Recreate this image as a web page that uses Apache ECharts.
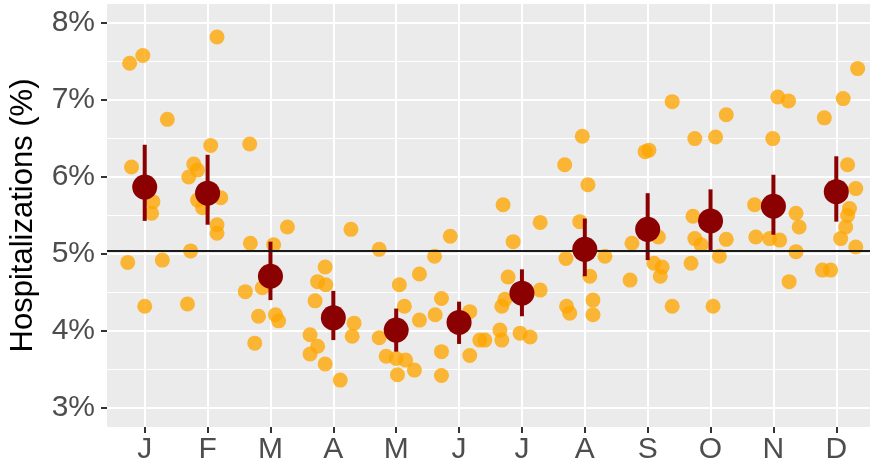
<!DOCTYPE html>
<html>
<head>
<meta charset="utf-8">
<script src="https://cdn.jsdelivr.net/npm/echarts@6/dist/echarts.min.js"></script>
<style>
html,body{margin:0;padding:0;background:#fff;}
#chart{width:870px;height:467px;}
</style>
</head>
<body>
<div id="chart"></div>
<script>
const months = ['J','F','M','A','M','J','J','A','S','O','N','D'];
const yTicks = [3, 4, 5, 6, 7, 8];
const yMinorTicks = [3.5, 4.5, 5.5, 6.5, 7.5];
const overallMean = 5.04;

const meanValues = [5.87, 5.79, 4.71, 4.17, 4.01, 4.11, 4.49, 5.06, 5.32, 5.43, 5.62, 5.81];
const ciLower    = [5.43, 5.38, 4.40, 3.88, 3.73, 3.83, 4.19, 4.71, 4.92, 5.05, 5.25, 5.42];
const ciUpper    = [6.42, 6.29, 5.16, 4.52, 4.29, 4.38, 4.80, 5.46, 5.79, 5.84, 6.03, 6.27];

const janValues = [7.48, 7.58, 6.13, 6.75, 5.68, 5.53, 5.85, 4.89, 4.32, 4.92];
const febValues = [7.82, 6.41, 6.17, 6.09, 6.00, 5.73, 5.70, 5.60, 5.38, 5.27, 5.04, 4.35];
const marValues = [6.43, 5.35, 5.14, 5.12, 4.56, 4.51, 4.21, 4.19, 4.13, 3.84];
const aprValues = [5.32, 4.83, 4.64, 4.60, 4.39, 4.10, 3.95, 3.93, 3.80, 3.70, 3.57, 3.36];
const mayValues = [5.06, 4.74, 4.60, 4.32, 4.14, 3.91, 3.67, 3.64, 3.62, 3.49, 3.43];
const junValues = [5.23, 4.97, 4.42, 4.25, 4.21, 3.88, 3.88, 3.73, 3.68, 3.42];
const julValues = [5.64, 5.41, 5.16, 4.70, 4.53, 4.41, 4.32, 4.01, 3.97, 3.92, 3.88];
const augValues = [6.53, 6.16, 5.90, 5.42, 4.97, 4.94, 4.71, 4.40, 4.32, 4.23, 4.21];
const sepValues = [6.98, 6.35, 6.33, 5.22, 5.14, 4.88, 4.83, 4.71, 4.66, 4.32];
const octValues = [6.81, 6.52, 6.50, 5.49, 5.20, 5.19, 5.12, 4.97, 4.88, 4.32];
const novValues = [7.04, 6.99, 6.50, 5.64, 5.53, 5.35, 5.22, 5.20, 5.18, 5.03, 4.64];
const decValues = [7.41, 7.02, 6.77, 6.16, 5.85, 5.59, 5.50, 5.35, 5.20, 5.09, 4.79, 4.79];

// horizontal jitter of each yearly point (in month units)
const janJitter = [-0.24, -0.03, -0.21, 0.36, 0.13, 0.11, 0.05, -0.27, 0.00, 0.28];
const febJitter = [0.15, 0.05, -0.22, -0.16, -0.30, 0.21, -0.16, -0.08, 0.15, 0.15, -0.27, -0.32];
const marJitter = [-0.33, 0.27, -0.32, 0.05, -0.13, -0.40, 0.08, -0.19, 0.13, -0.25];
const aprJitter = [0.28, -0.13, -0.25, -0.12, -0.29, 0.33, -0.37, 0.30, -0.25, -0.37, -0.13, 0.11];
const mayJitter = [-0.27, 0.37, 0.05, 0.13, 0.37, -0.27, -0.16, 0.00, 0.15, 0.29, 0.02];
const junJitter = [-0.14, -0.39, -0.28, 0.17, -0.38, 0.33, 0.41, -0.28, 0.17, -0.28];
const julJitter = [-0.30, 0.29, -0.14, -0.22, 0.29, -0.27, -0.32, -0.35, -0.03, 0.13, -0.32];
const augJitter = [-0.04, -0.32, 0.05, -0.08, 0.32, -0.30, 0.08, 0.13, -0.29, -0.24, 0.13];
const sepJitter = [0.39, 0.02, -0.04, 0.17, -0.25, 0.10, 0.23, 0.20, -0.28, 0.39];
const octJitter = [0.25, 0.08, -0.25, -0.28, -0.25, 0.25, -0.15, 0.14, -0.31, 0.04];
const novJitter = [0.07, 0.24, -0.01, -0.30, 0.36, 0.41, -0.28, -0.06, 0.10, 0.36, 0.25];
const decJitter = [0.34, 0.11, -0.19, 0.18, 0.31, 0.21, 0.18, 0.15, 0.07, 0.31, -0.22, -0.09];

const monthValues = [janValues, febValues, marValues, aprValues, mayValues, junValues,
                     julValues, augValues, sepValues, octValues, novValues, decValues];
const monthJitter = [janJitter, febJitter, marJitter, aprJitter, mayJitter, junJitter,
                     julJitter, augJitter, sepJitter, octJitter, novJitter, decJitter];

const yearlyPoints = [];
monthValues.forEach((vals, m) => {
  vals.forEach((v, i) => yearlyPoints.push([m + 1 + monthJitter[m][i], v]));
});
const meanPoints = meanValues.map((v, m) => [m + 1, v]);
const ciData = meanValues.map((v, m) => [m + 1, ciLower[m], ciUpper[m]]);
const monthPositions = months.map((_, m) => m + 1);

const FONT = '"Liberation Sans", Arial, Helvetica, sans-serif';
const chart = echarts.init(document.getElementById('chart'), null, {renderer: 'canvas'});

chart.setOption({
  animation: false,
  backgroundColor: '#ffffff',
  grid: {
    left: 107, top: 4, width: 767, height: 423,
    show: true, backgroundColor: '#EBEBEB', borderWidth: 0,
    containLabel: false, outerBoundsMode: 'none'
  },
  xAxis: {
    type: 'value', min: 0.4, max: 12.6,
    axisLine: {show: false},
    axisTick: {show: true, customValues: monthPositions, length: 6, lineStyle: {color: '#333333', width: 2}},
    axisLabel: {
      customValues: monthPositions, margin: 8,
      formatter: v => months[Math.round(v) - 1] || '',
      color: '#4D4D4D', fontSize: 30, fontFamily: FONT
    },
    splitLine: {show: true, lineStyle: {color: '#ffffff', width: 2}}
  },
  yAxis: [{
    type: 'value', min: 2.75, max: 8.25,
    name: 'Hospitalizations (%)', nameLocation: 'middle', nameGap: 68, nameRotate: 90,
    nameTextStyle: {color: '#000000', fontSize: 31, fontFamily: FONT},
    axisLine: {show: false},
    axisTick: {show: true, customValues: yTicks, length: 6, lineStyle: {color: '#333333', width: 2}},
    axisLabel: {
      customValues: yTicks, margin: 12,
      formatter: v => v + '%',
      color: '#4D4D4D', fontSize: 30, fontFamily: FONT
    },
    splitLine: {show: true, lineStyle: {color: '#ffffff', width: 2}}
  }, {
    type: 'value', min: 2.75, max: 8.25, position: 'left',
    axisLine: {show: false},
    axisTick: {show: false, customValues: yMinorTicks},
    axisLabel: {show: false, customValues: yMinorTicks},
    splitLine: {show: true, lineStyle: {color: '#ffffff', width: 1}}
  }],
  series: [{
    type: 'scatter',
    name: 'yearly',
    data: yearlyPoints,
    symbolSize: 15,
    itemStyle: {color: 'rgba(255,165,0,0.78)', opacity: 1},
    silent: true,
    z: 2
  }, {
    type: 'scatter',
    name: 'overall',
    data: [],
    z: 3,
    markLine: {
      silent: true, symbol: 'none', label: {show: false},
      lineStyle: {color: '#1a1a1a', width: 2, type: 'solid', opacity: 1},
      data: [{yAxis: overallMean}]
    }
  }, {
    type: 'custom',
    name: 'ci',
    data: ciData,
    z: 4,
    silent: true,
    renderItem: function (params, api) {
      const x = api.value(0);
      const lo = api.coord([x, api.value(1)]);
      const hi = api.coord([x, api.value(2)]);
      return {
        type: 'line',
        shape: {x1: lo[0], y1: lo[1], x2: hi[0], y2: hi[1]},
        style: {stroke: '#8B0000', lineWidth: 4}
      };
    }
  }, {
    type: 'scatter',
    name: 'mean',
    data: meanPoints,
    symbolSize: 25,
    itemStyle: {color: '#8B0000', opacity: 1},
    silent: true,
    z: 5
  }]
});
</script>
</body>
</html>
